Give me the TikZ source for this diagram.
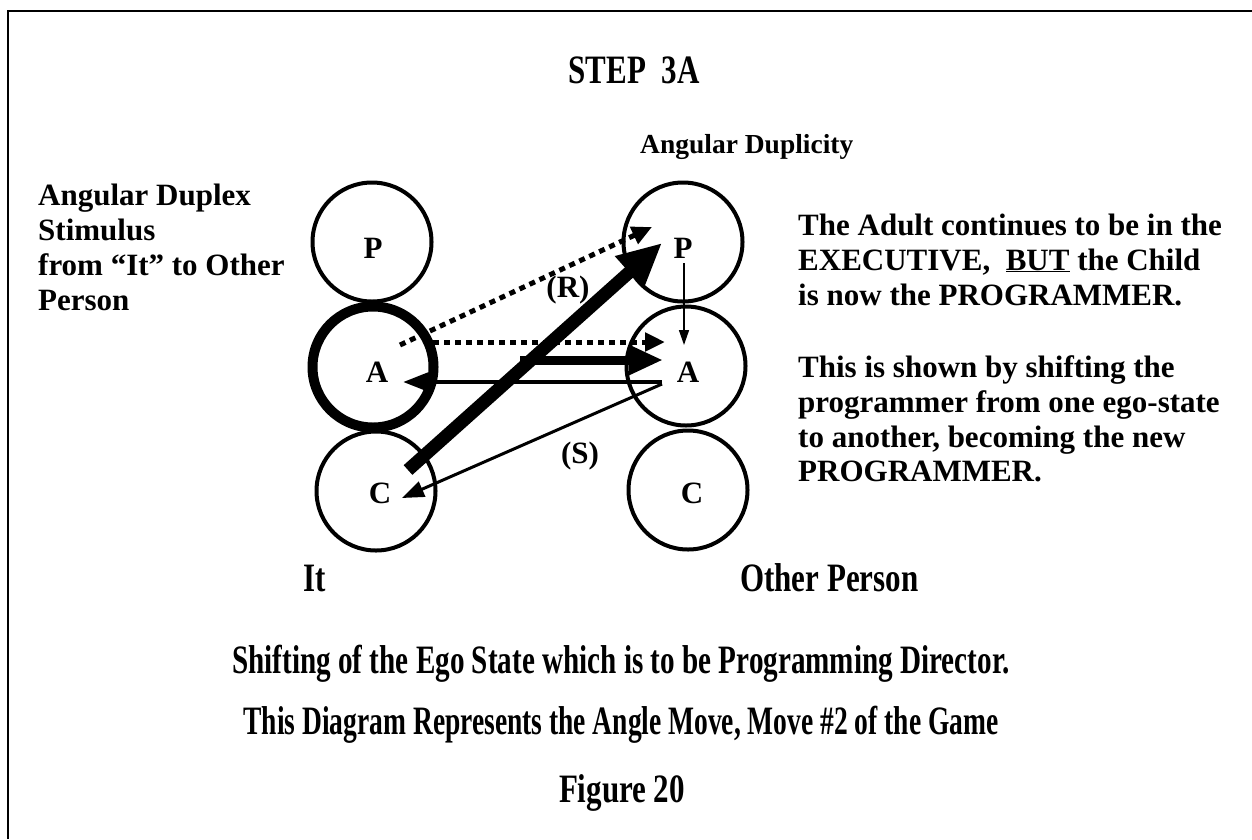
\documentclass[tikz,border=0pt]{standalone}
\usepackage{fontspec}
\setmainfont{Liberation Serif}
\usetikzlibrary{arrows.meta}
\newcommand\talltext[2][1]{\scalebox{#1}[1.3]{#2}}
\begin{document}
\begin{tikzpicture}[x=1pt,y=-1pt,
  every node/.style={inner sep=0pt, font=\bfseries\fontsize{31}{34}\selectfont},
  txt/.style={anchor=base west},
  ctxt/.style={anchor=base},
  ego/.style={circle, draw, line width=4pt, minimum size=119pt, inner sep=0pt},
  egothick/.style={circle, draw, line width=10pt, minimum size=121pt, inner sep=0pt},
  letter/.style={anchor=base, font=\bfseries\fontsize{31}{34}\selectfont},
  dotarrow/.style={line width=5pt, dash pattern=on 6pt off 5pt, -{Triangle[length=20pt,width=18pt]}},
  bigarrow/.style={line width=13pt, -{Triangle[length=44pt,width=40pt]}},
  medarrow/.style={line width=9pt, -{Triangle[length=34pt,width=28pt]}},
  retarrow/.style={line width=4.5pt, -{Triangle[length=25pt,width=18pt]}},
  slantarrow/.style={line width=3pt, -{Triangle[length=22pt,width=16pt]}},
  thinarrow/.style={line width=1.5pt, -{Triangle[length=15pt,width=10pt]}},
  frame/.style={line width=2.5pt}
]
\useasboundingbox (0,0) rectangle (1252,839);
% frame
\coordinate (fbl) at (8,839);
\coordinate (ftl) at (8,11);
\coordinate (ftr) at (1252,11);
\draw[frame] (fbl) -- (ftl) -- (ftr);

% ego-state circles
\node[ego] (LP) at (372,242) {};
\node[egothick] (LA) at (373,367) {};
\node[ego] (LC) at (376,491) {};
\node[ego] (RP) at (683,242) {};
\node[ego] (RA) at (686,366) {};
\node[ego] (RC) at (688,490) {};

% letters
\node[letter] (lPt) at (373,258) {P};
\node[letter] (lAt) at (377,382) {A};
\node[letter] (lCt) at (380,503) {C};
\node[letter] (rPt) at (683,258) {P};
\node[letter] (rAt) at (688,382) {A};
\node[letter] (rCt) at (692,503) {C};

% arrow end points
\coordinate (d1s) at (400,345);
\coordinate (d1e) at (652,227);
\coordinate (d2s) at (433,342);
\coordinate (d2e) at (665,342);
\coordinate (bs) at (408,470);
\coordinate (be) at (662,243);
\coordinate (ms) at (520,360);
\coordinate (me) at (663,360);
\coordinate (rs) at (662,382);
\coordinate (re) at (403,382);
\coordinate (ss) at (662,384);
\coordinate (se) at (402,498);
\coordinate (ts) at (684,263);
\coordinate (te) at (684,345);

\draw[dotarrow] (d1s) -- (d1e);
\draw[dotarrow] (d2s) -- (d2e);
\draw[retarrow] (rs) -- (re);
\draw[slantarrow] (ss) -- (se);
\draw[medarrow] (ms) -- (me);
\draw[bigarrow] (bs) -- (be);
\draw[thinarrow] (ts) -- (te);

% arrow labels
\node[ctxt] (Rlab) at (568,297) {(R)};
\node[ctxt] (Slab) at (580,463) {(S)};

% titles
\node[ctxt] (title) at (634,83) {\talltext{STEP~~3A}};
\node[txt, font=\bfseries\fontsize{27.5}{34}\selectfont] (dupl) at (640,153) {Angular Duplicity};

% left block
\node[txt] (l1) at (38,205) {Angular Duplex};
\node[txt] (l2) at (38,240) {Stimulus};
\node[txt] (l3) at (38,275) {from “It” to Other};
\node[txt] (l4) at (38,310) {Person};

% right block
\node[txt] (r1) at (798,235) {The Adult continues to be in the};
\node[txt] (r2) at (798,270) {EXECUTIVE,~~\underline{BUT} the Child};
\node[txt] (r3) at (798,305) {is now the PROGRAMMER.};
\node[txt] (r4) at (798,377) {This is shown by shifting the};
\node[txt] (r5) at (798,412) {programmer from one ego-state};
\node[txt] (r6) at (798,447) {to another, becoming the new};
\node[txt] (r7) at (798,481) {PROGRAMMER.};

% bottom labels
\node[txt] (it) at (303,591) {\talltext{It}};
\node[txt] (other) at (740,591) {\talltext{Other Person}};
\node[ctxt] (cap1) at (621,673) {\talltext[0.94]{Shifting of the Ego State which is to be Programming Director.}};
\node[ctxt] (cap2) at (621,734) {\talltext[0.887]{This Diagram Represents the Angle Move, Move \#2 of the Game}};
\node[ctxt] (cap3) at (622,802) {\talltext{Figure 20}};
\end{tikzpicture}
\end{document}
